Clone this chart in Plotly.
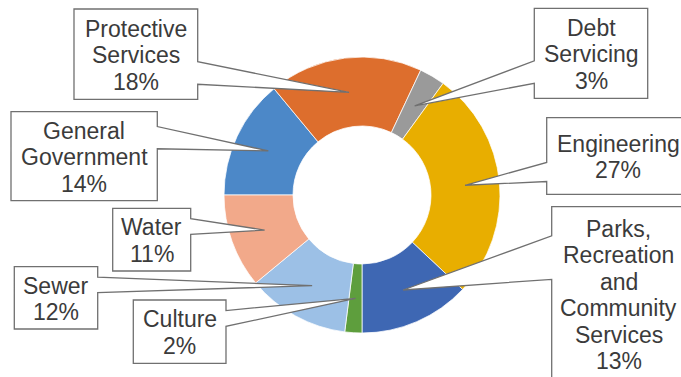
import math
import plotly.graph_objects as go

# Budget share by department (percent), listed clockwise from 9 o'clock
categories = [
    "General Government",
    "Protective Services",
    "Debt Servicing",
    "Engineering",
    "Parks, Recreation and Community Services",
    "Culture",
    "Sewer",
    "Water",
]
shares = [14, 18, 3, 27, 13, 2, 12, 11]
colors = ["#4C88C8", "#DD6E2D", "#9A9A9A", "#E8AE00",
          "#3E67B3", "#5E9E3D", "#9CC0E6", "#F2A98A"]

# Callout boxes in pixels: (left, top, right, bottom)
boxes = [
    (11, 111.7, 157.3, 200.7),
    (74, 9, 197.7, 99.3),
    (534.3, 8.3, 647.7, 98.3),
    (546.7, 117.7, 690, 194.3),
    (551.7, 206.7, 686, 381),
    (133.3, 300, 226, 363.3),
    (14.3, 266.7, 97.7, 329),
    (112.7, 208.3, 190.7, 271),
]

W, H = 681, 377
CX, CY, R_OUT = 362, 195, 138
HOLE = 0.5
START_ANGLE = 270
LINE_H = 26.5
FONT = dict(family="Liberation Sans, Arial, sans-serif", size=23, color="#3b3b3b")


def px(x):
    return x / W


def py(y):
    return 1 - y / H


fig = go.Figure()
fig.add_trace(go.Pie(
    labels=categories,
    values=shares,
    sort=False,
    direction="clockwise",
    rotation=START_ANGLE,
    hole=HOLE,
    marker=dict(colors=colors, line=dict(color="white", width=0.75)),
    textinfo="none",
    hoverinfo="label+percent",
    showlegend=False,
    domain=dict(x=[(CX - R_OUT) / W, (CX + R_OUT) / W],
                y=[(H - CY - R_OUT) / H, (H - CY + R_OUT) / H]),
))

shapes = []
annotations = []
total = sum(shares)
angle = START_ANGLE
r_mid = R_OUT * (1 + HOLE) / 2
for name, v, (x0, y0, x1, y1) in zip(categories, shares, boxes):
    span = v / total * 360
    mid = math.radians(angle + span / 2)
    angle += span
    ax = CX + r_mid * math.sin(mid)
    ay = CY - r_mid * math.cos(mid)

    bh = y1 - y0
    cy_box = (y0 + y1) / 2
    if ay < cy_box:
        b0, b1 = y0 + bh * 2 / 12, y0 + bh * 5 / 12
    else:
        b0, b1 = y0 + bh * 7 / 12, y0 + bh * 10 / 12

    if ax > x1:
        pts = [(x0, y0), (x1, y0), (x1, b0), (ax, ay), (x1, b1), (x1, y1), (x0, y1)]
    else:
        pts = [(x0, y0), (x1, y0), (x1, y1), (x0, y1), (x0, b1), (ax, ay), (x0, b0)]
    path = "M " + " L ".join(f"{px(x):.5f},{py(y):.5f}" for x, y in pts) + " Z"
    shapes.append(dict(type="path", path=path, xref="paper", yref="paper",
                       fillcolor="white", line=dict(color="#707070", width=1.3),
                       layer="above"))

    lines = name.split(" ") + [f"{v}%"]
    n = len(lines)
    cx_box = (x0 + x1) / 2
    for i, txt in enumerate(lines):
        ly = cy_box + 1 + (i - (n - 1) / 2) * LINE_H
        annotations.append(dict(text=txt, x=px(cx_box), y=py(ly), xref="paper", yref="paper",
                                showarrow=False, xanchor="center", yanchor="middle",
                                font=FONT))

fig.update_layout(
    width=W, height=H,
    margin=dict(l=0, r=0, t=0, b=0),
    paper_bgcolor="white",
    plot_bgcolor="white",
    shapes=shapes,
    annotations=annotations,
)

fig.write_html("out.html")
